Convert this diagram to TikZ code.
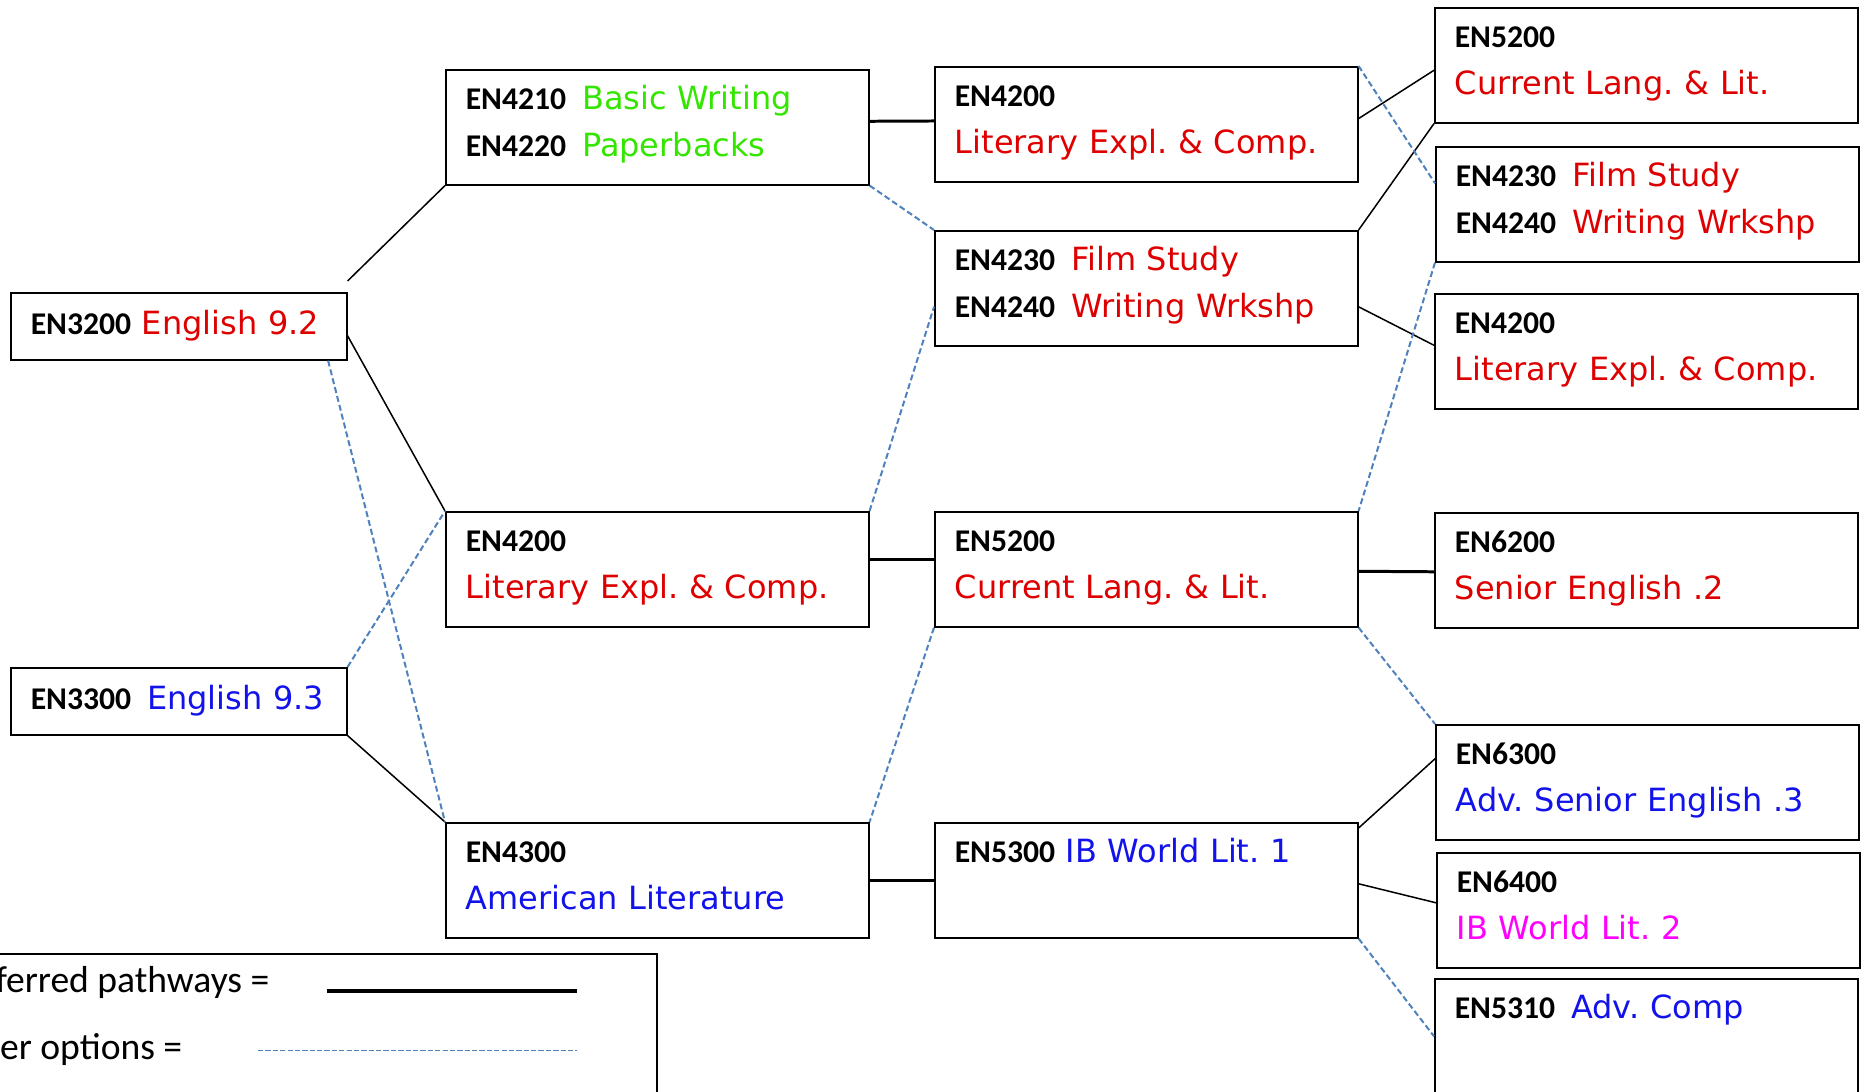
\documentclass[tikz,border=0pt]{standalone}
\usepackage{fontspec}
\setmainfont{DejaVu Sans}
\newfontfamily\codefont{Carlito}
\definecolor{rouge}{RGB}{222,0,0}
\definecolor{vert}{RGB}{51,230,0}
\definecolor{bleu}{RGB}{18,18,235}
\definecolor{rose}{RGB}{255,0,255}
\definecolor{tiret}{RGB}{79,129,189}
\newcommand{\code}[1]{{\codefont\bfseries\fontsize{9pt}{13.3pt}\selectfont #1}}
\newcommand{\ecart}{\hspace{0.16cm}}

\begin{document}
\frenchspacing
\begin{tikzpicture}[y=-1cm]
	\tikzstyle{cours}=[draw,line width=0.45pt,anchor=north west,align=left,inner xsep=0.2cm,inner ysep=0pt,text width=3.83cm,text height=0.40cm,text depth=0.75cm,font=\fontsize{9.1pt}{13.3pt}\selectfont]
	\tikzstyle{debut}=[cours,text width=2.96cm,text height=0.42cm,text depth=0.25cm]
	\tikzstyle{trait}=[line width=0.43pt]
	\tikzstyle{plein}=[line width=0.85pt]
	\tikzstyle{option}=[tiret,line width=0.57pt,dash pattern=on 1.7pt off 0.9pt]
	\useasboundingbox (0,0) rectangle (18.62,10.92);
	\node[debut] (c1a) at (0.10,2.92){\code{EN3200} \textcolor{rouge}{English 9.2}};
	\node[debut] (c1b) at (0.10,6.67){\code{EN3300}\ecart\textcolor{bleu}{English 9.3}};
	\node[cours] (c2a) at (4.45,0.69){\code{EN4210}\ecart\textcolor{vert}{Basic Writing}\\\code{EN4220}\ecart\textcolor{vert}{Paperbacks}};
	\node[cours] (c2b) at (4.45,5.11){\code{EN4200}\\\textcolor{rouge}{Literary Expl. \& Comp.}};
	\node[cours] (c2c) at (4.45,8.22){\code{EN4300}\\\textcolor{bleu}{American Literature}};
	\node[cours] (c3a) at (9.34,0.66){\code{EN4200}\\\textcolor{rouge}{Literary Expl. \& Comp.}};
	\node[cours] (c3b) at (9.34,2.30){\code{EN4230}\ecart\textcolor{rouge}{Film Study}\\\code{EN4240}\ecart\textcolor{rouge}{Writing Wrkshp}};
	\node[cours] (c3c) at (9.34,5.11){\code{EN5200}\\\textcolor{rouge}{Current Lang. \& Lit.}};
	\node[cours] (c3d) at (9.34,8.22){\code{EN5300} \textcolor{bleu}{IB World Lit. 1}};
	\node[cours] (c4a) at (14.34,0.07){\code{EN5200}\\\textcolor{rouge}{Current Lang. \& Lit.}};
	\node[cours] (c4b) at (14.35,1.46){\code{EN4230}\ecart\textcolor{rouge}{Film Study}\\\code{EN4240}\ecart\textcolor{rouge}{Writing Wrkshp}};
	\node[cours] (c4c) at (14.34,2.93){\code{EN4200}\\\textcolor{rouge}{Literary Expl. \& Comp.}};
	\node[cours] (c4d) at (14.34,5.12){\code{EN6200}\\\textcolor{rouge}{Senior English .2}};
	\node[cours] (c4e) at (14.35,7.24){\code{EN6300}\\\textcolor{bleu}{Adv. Senior English .3}};
	\node[cours] (c4f) at (14.36,8.52){\code{EN6400}\\\textcolor{rose}{IB World Lit. 2}};
	\node[cours] (c4g) at (14.34,9.78){\code{EN5310}\ecart\textcolor{bleu}{Adv. Comp}};
	% preferred pathways
	\draw[trait] ([yshift=0.11cm]c1a.north east) -- (c2a.south west);
	\draw[trait] ([yshift=-0.095cm]c1a.east) -- (c2b.north west);
	\draw[trait] (c1b.south east) -- (c2c.north west);
	\draw[trait] ([yshift=0.057cm]c3a.east) -- ([yshift=-0.05cm]c4a.west);
	\draw[trait] (c3b.north east) -- (c4a.south west);
	\draw[trait] ([yshift=-0.185cm]c3b.east) -- ([yshift=0.06cm]c4c.west);
	\draw[trait] ([yshift=-0.06cm]c3d.north east) -- ([yshift=0.235cm]c4e.west);
	\draw[trait] ([yshift=-0.035cm]c3d.east) -- ([yshift=0.075cm]c4f.west);
	\draw[plein] ([yshift=0.06cm]c2a.east) -- ([yshift=0.033cm]c3a.west);
	\draw[plein] ([yshift=0.1cm]c2b.east) -- ([yshift=0.1cm]c3c.west);
	\draw[plein] ([yshift=-0.02cm]c3c.east) -- ([yshift=-0.015cm]c4d.west);
	\draw[plein] (c2c.east) -- (c3d.west);
	% other options
	\draw[option] (c2a.south east) -- (c3b.north west);
	\draw[option] (c2b.north east) -- ([yshift=-0.185cm]c3b.west);
	\draw[option] ([xshift=-0.195cm]c1a.south east) -- (c2c.north west);
	\draw[option] (c1b.north east) -- (c2b.north west);
	\draw[option] (c3c.south west) -- (c2c.north east);
	\draw[option] (c3a.north east) -- ([yshift=0.21cm]c4b.west);
	\draw[option] (c4b.south west) -- (c3c.north east);
	\draw[option] (c3c.south east) -- (c4e.north west);
	\draw[option] (c3d.south east) -- (c4g.west);
	% legend
	\node[draw,line width=0.45pt,anchor=north west,minimum width=6.66cm,minimum height=1.8cm] (legende) at (-0.10,9.533){};
	\node[anchor=base east,inner sep=0pt,font=\codefont\fontsize{10.7pt}{12pt}\selectfont] (lpref) at (2.70,9.927){Preferred pathways =};
	\node[anchor=base east,inner sep=0pt,font=\codefont\fontsize{10.7pt}{12pt}\selectfont] (lautre) at (1.83,10.59){Other options =};
	\coordinate (p1) at (3.27,9.913);
	\coordinate (p2) at (5.77,9.913);
	\coordinate (o1) at (2.58,10.507);
	\coordinate (o2) at (5.77,10.507);
	\draw[line width=1.1pt] (p1) -- (p2);
	\draw[tiret,line width=0.45pt,dash pattern=on 1.5pt off 0.6pt] (o1) -- (o2);
\end{tikzpicture}
\end{document}
